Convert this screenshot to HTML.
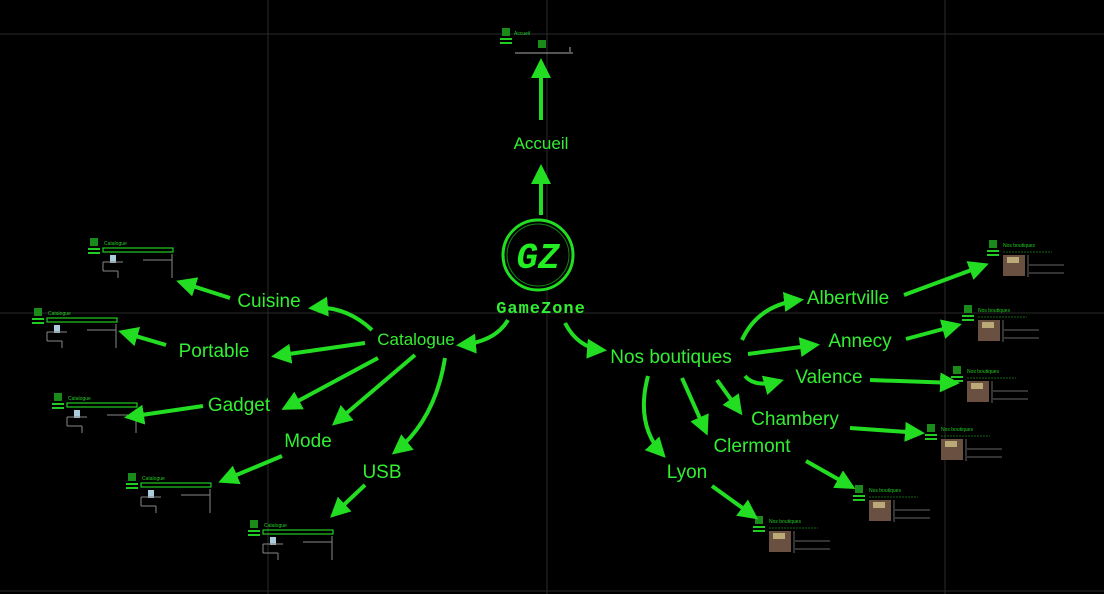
<!DOCTYPE html>
<html><head><meta charset="utf-8"><style>
body{margin:0;background:#000;width:1104px;height:594px;overflow:hidden}
svg{display:block}
.l{font-family:"Liberation Sans",sans-serif;font-size:19px;fill:#33ee33;text-anchor:middle}
.a{stroke:#22dd22;stroke-width:4;fill:none}
</style></head><body>
<svg width="1104" height="594" xmlns="http://www.w3.org/2000/svg">
<defs>
<marker id="h" viewBox="0 0 10 10" refX="8" refY="5" markerWidth="5" markerHeight="5" orient="auto" markerUnits="strokeWidth"><path d="M0,0L10,5L0,10z" fill="#22dd22"/></marker>
<g id="cat">
<rect x="2" y="0" width="8" height="8" fill="#1a8a1a"/>
<rect x="0" y="10" width="12" height="2" fill="#22cc22"/><rect x="0" y="14" width="12" height="2" fill="#22cc22"/>
<text x="16" y="7" font-size="5" fill="#22cc22" font-family="Liberation Sans">Catalogue</text>
<rect x="15" y="10" width="70" height="4" fill="none" stroke="#22cc22" stroke-width="1.2"/>
<rect x="22" y="17" width="6" height="8" fill="#aaccdd"/>
<line x1="15" y1="24" x2="35" y2="24" stroke="#888"/><line x1="15" y1="24" x2="15" y2="33" stroke="#888"/>
<line x1="55" y1="22" x2="84" y2="22" stroke="#888"/><line x1="84" y1="16" x2="84" y2="40" stroke="#888"/>
<line x1="15" y1="33" x2="30" y2="33" stroke="#888"/><line x1="30" y1="33" x2="30" y2="40" stroke="#888"/>
</g>
<g id="st">
<rect x="2" y="0" width="8" height="8" fill="#1a8a1a"/>
<rect x="0" y="10" width="12" height="2" fill="#22cc22"/><rect x="0" y="14" width="12" height="2" fill="#22cc22"/>
<text x="16" y="7" font-size="5" fill="#22cc22" font-family="Liberation Sans">Nos boutiques</text>
<line x1="16" y1="12" x2="65" y2="12" stroke="#116611" stroke-dasharray="2,1"/>
<rect x="16" y="15" width="22" height="21" fill="#6a5040"/><rect x="20" y="17" width="12" height="6" fill="#bbaa77"/>
<line x1="41" y1="15" x2="41" y2="37" stroke="#666"/>
<line x1="42" y1="25" x2="77" y2="25" stroke="#666"/><line x1="42" y1="33" x2="77" y2="33" stroke="#666"/>
</g>
</defs>
<g stroke="#2a2a2a" stroke-width="1">
<line x1="0" y1="34" x2="1104" y2="34"/><line x1="0" y1="313" x2="1104" y2="313"/><line x1="0" y1="591" x2="1104" y2="591"/>
<line x1="268" y1="0" x2="268" y2="594"/><line x1="547" y1="0" x2="547" y2="594"/><line x1="945" y1="0" x2="945" y2="594"/>
</g>
<!-- thumbnails -->
<use href="#cat" x="88" y="238"/><use href="#cat" x="32" y="308"/><use href="#cat" x="52" y="393"/>
<use href="#cat" x="126" y="473"/><use href="#cat" x="248" y="520"/>
<g transform="translate(500,28)"><rect x="2" y="0" width="8" height="8" fill="#1a8a1a"/><rect x="0" y="10" width="12" height="2" fill="#22cc22"/><rect x="0" y="14" width="12" height="2" fill="#22cc22"/><text x="14" y="7" font-size="5" fill="#22cc22" font-family="Liberation Sans">Accueil</text><rect x="38" y="12" width="8" height="8" fill="#1a8a1a"/><line x1="15" y1="25" x2="73" y2="25" stroke="#aaa"/><line x1="70" y1="19" x2="70" y2="24" stroke="#aaa"/></g>
<use href="#st" x="987" y="240"/><use href="#st" x="962" y="305"/><use href="#st" x="951" y="366"/>
<use href="#st" x="925" y="424"/><use href="#st" x="853" y="485"/><use href="#st" x="753" y="516"/>
<!-- arrows -->
<g class="a" marker-end="url(#h)">
<path class="a" d="M541,215L541,168"/><path class="a" d="M541,120L541,62"/>
<path class="a" d="M508,320Q495,342 460,345"/>
<path class="a" d="M372,330Q345,305 312,308"/><path class="a" d="M230,298L180,282"/>
<path class="a" d="M365,343L275,356"/><path class="a" d="M166,345L122,332"/>
<path class="a" d="M378,358L285,408"/><path class="a" d="M203,406L128,417"/>
<path class="a" d="M415,355L335,423"/><path class="a" d="M282,456L222,481"/>
<path class="a" d="M445,358Q435,420 395,452"/><path class="a" d="M365,485L333,515"/>
<path class="a" d="M565,323Q578,348 603,350"/>
<path class="a" d="M742,340Q758,305 800,300"/><path class="a" d="M904,295L985,265"/>
<path class="a" d="M748,354L816,345"/><path class="a" d="M906,339L958,325"/>
<path class="a" d="M745,376Q755,388 780,381"/><path class="a" d="M870,380L956,383"/>
<path class="a" d="M717,380L740,412"/><path class="a" d="M850,428L921,433"/>
<path class="a" d="M682,378L706,432"/><path class="a" d="M806,461L852,487"/>
<path class="a" d="M648,376Q635,425 663,455"/><path class="a" d="M712,486L755,517"/>
</g>
<!-- logo -->
<circle cx="538" cy="255" r="35" fill="#000" stroke="#22dd22" stroke-width="3"/>
<circle cx="538" cy="255" r="31" fill="none" stroke="#118811" stroke-width="1"/>
<text x="538" y="268" font-family="Liberation Mono" font-style="italic" font-weight="bold" font-size="36" fill="#22ee22" text-anchor="middle">GZ</text>
<text x="541" y="313" font-family="Liberation Mono" font-weight="bold" font-size="17" fill="#33ee33" text-anchor="middle" letter-spacing="1">GameZone</text>
<!-- labels -->
<text class="l" x="541" y="149" style="font-size:17px">Accueil</text>
<text class="l" x="416" y="345" style="font-size:17px">Catalogue</text>
<text class="l" x="269" y="307">Cuisine</text>
<text class="l" x="214" y="357">Portable</text>
<text class="l" x="239" y="411">Gadget</text>
<text class="l" x="308" y="447">Mode</text>
<text class="l" x="382" y="478">USB</text>
<text class="l" x="671" y="363">Nos boutiques</text>
<text class="l" x="848" y="304">Albertville</text>
<text class="l" x="860" y="347">Annecy</text>
<text class="l" x="829" y="383">Valence</text>
<text class="l" x="795" y="425">Chambery</text>
<text class="l" x="752" y="452">Clermont</text>
<text class="l" x="687" y="478">Lyon</text>
</svg>
</body></html>
